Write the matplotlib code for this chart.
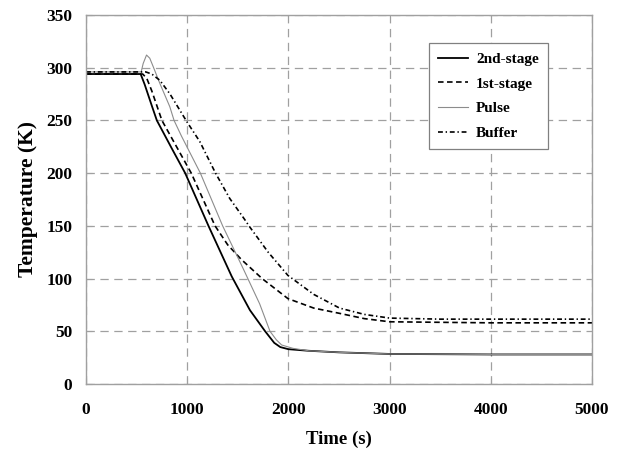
import matplotlib
matplotlib.use("Agg")
import matplotlib.pyplot as plt

# temperature histories (time s, temperature K)
t_2nd = [0, 540, 580, 650, 700, 850, 980, 1210, 1440, 1620, 1770, 1860, 1920, 2000, 2200, 2500, 3000, 4000, 5000]
T_2nd = [294, 294, 284, 264, 250, 223, 200, 150, 102, 70, 50, 39, 35, 33, 31.5, 30, 28.5, 28, 28]

t_1st = [0, 560, 600, 650, 750, 1040, 1275, 1400, 1536, 1740, 1995, 2250, 2505, 2750, 3000, 4000, 5000]
T_1st = [294, 294, 290, 278, 250, 200, 150, 132, 118, 100, 81, 72, 67, 62, 59, 58, 58]

t_pulse = [0, 545, 565, 598, 630, 664, 730, 828, 870, 944, 1130, 1350, 1560, 1716, 1818, 1880, 1933, 2045, 2200, 2500, 3000, 4000, 5000]
T_pulse = [296, 296, 304, 312, 309, 301, 285, 263, 250, 235, 200, 150, 108, 76, 50, 42, 37, 33.8, 31.5, 30, 28.5, 28, 28]

t_buf = [0, 590, 650, 730, 830, 995, 1124, 1280, 1420, 1568, 1610, 1800, 1995, 2250, 2505, 2750, 3000, 3500, 5000]
T_buf = [296, 296, 294, 288, 275, 249, 230, 200, 176, 156, 150, 125, 103, 85, 72, 66, 62.5, 61.5, 61.5]

plt.rcParams['font.family'] = ['Liberation Serif', 'DejaVu Serif']
plt.rcParams['font.weight'] = 'bold'
plt.rcParams['lines.scale_dashes'] = False

fig = plt.figure(figsize=(6.21, 4.5), dpi=100)
ax = fig.add_axes([0.1385, 0.1467, 0.8148, 0.82])

ax.plot(t_2nd, T_2nd, color='black', lw=1.3, label='2nd-stage')
ax.plot(t_1st, T_1st, color='black', lw=1.2, dashes=(4, 2.5), label='1st-stage')
ax.plot(t_pulse, T_pulse, color='#8c8c8c', lw=0.8, label='Pulse')
ax.plot(t_buf, T_buf, color='black', lw=1.2, dashes=(3.5, 2, 1, 2), label='Buffer')

ax.set_xlim(0, 5000)
ax.set_ylim(0, 350)
ax.set_xticks(range(0, 5001, 1000))
ax.set_yticks(range(0, 351, 50))
ax.grid(True, color='#a0a0a0', lw=0.9, dashes=(6, 4))

for s in ax.spines.values():
    s.set_color('#a0a0a0')
    s.set_linewidth(1.0)
ax.tick_params(direction='in', length=4, color='#a0a0a0', labelsize=12.5)
ax.tick_params(axis='x', pad=13)
ax.tick_params(axis='y', pad=10)
for lab in ax.get_xticklabels() + ax.get_yticklabels():
    lab.set_fontweight('bold')

ax.set_xlabel('Time (s)', fontsize=13.5, fontweight='bold', labelpad=9)
ax.set_ylabel('Temperature (K)', fontsize=15.5, fontweight='bold', labelpad=6)

leg = ax.legend(loc='upper right', bbox_to_anchor=(0.913, 0.924), borderaxespad=0,
                fancybox=False, framealpha=1, edgecolor='#808080',
                prop={'size': 11, 'weight': 'bold'}, handlelength=2.0,
                labelspacing=0.72, borderpad=0.6, handletextpad=0.5)
leg.get_frame().set_linewidth(0.9)

fig.savefig('out.png', dpi=100)
